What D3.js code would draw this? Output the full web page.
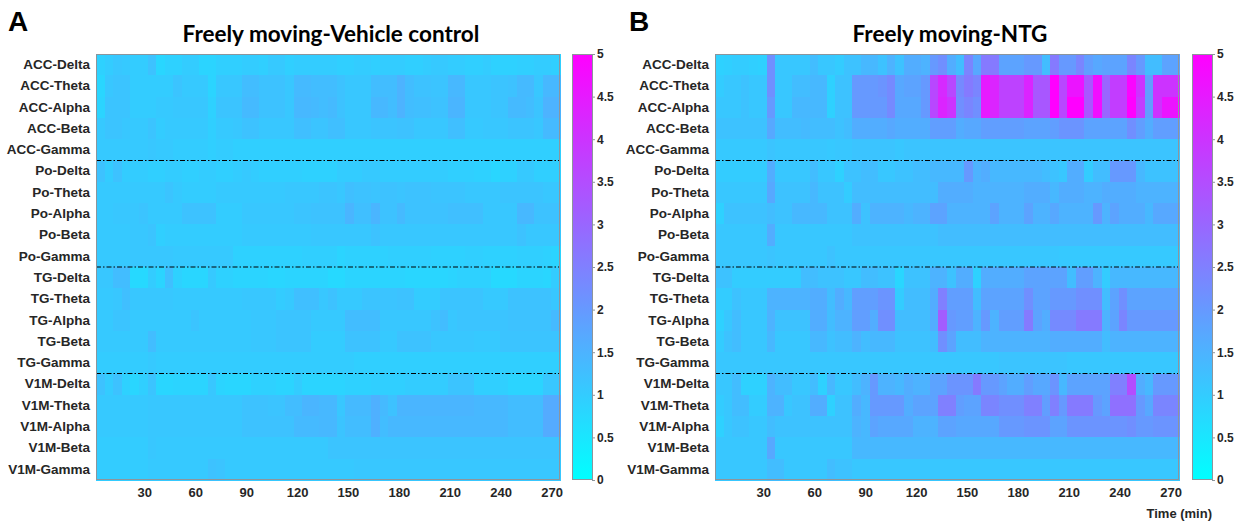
<!DOCTYPE html>
<html>
<head>
<meta charset="utf-8">
<script src="https://cdn.jsdelivr.net/npm/d3@7"></script>
<style>
  html, body { margin: 0; padding: 0; background: #ffffff; }
  svg { display: block; }
</style>
</head>
<body>
<svg id="chart" width="1247" height="523"></svg>
<script>
// Channel-band labels, top to bottom
const bands = ["ACC-Delta","ACC-Theta","ACC-Alpha","ACC-Beta","ACC-Gamma",
  "Po-Delta","Po-Theta","Po-Alpha","Po-Beta","Po-Gamma",
  "TG-Delta","TG-Theta","TG-Alpha","TG-Beta","TG-Gamma",
  "V1M-Delta","V1M-Theta","V1M-Alpha","V1M-Beta","V1M-Gamma"];

// 54 consecutive 5-minute bins
const bins = d3.range(54);
const timeTicks = [30, 60, 90, 120, 150, 180, 210, 240, 270];
const colorTicks = [0, 0.5, 1, 1.5, 2, 2.5, 3, 3.5, 4, 4.5, 5];

// Normalised power, vehicle-treated animals (rows follow `bands`)
const vehicle = [
  [0.9,1.0,1.1,1.05,1.0,1.0,1.2,0.8,0.9,0.9, 1.0,1.0,0.85,0.85,0.95,0.95,0.95,1.0,1.0,0.95, 1.05,1.05,0.95,1.0,1.0,1.0,1.0,1.0,0.95,0.95, 1.0,1.0,0.95,1.0,1.0,1.0,0.95,0.95,1.0,1.05, 1.05,1.0,1.0,0.95,0.95,1.0,0.9,0.9,0.9,0.95, 0.95,1.0,1.0,0.95],
  [0.8,1.1,1.15,1.15,1.0,1.0,1.0,1.0,1.0,1.15, 1.05,1.05,1.05,0.85,1.1,1.1,1.1,1.3,1.3,1.2, 1.2,1.2,1.1,1.35,1.35,1.3,1.3,1.3,1.2,1.1, 1.1,1.1,1.3,1.3,1.3,1.5,1.3,1.2,1.2,1.15, 1.15,1.4,1.4,1.1,1.1,1.1,1.15,1.15,1.2,1.35, 1.35,1.1,1.4,1.4],
  [0.85,1.15,1.15,1.15,1.0,1.0,1.0,1.05,1.05,1.1, 1.1,1.1,1.1,0.9,1.15,1.15,1.15,1.35,1.35,1.2, 1.2,1.2,1.1,1.4,1.4,1.35,1.3,1.35,1.2,1.1, 1.1,1.1,1.4,1.4,1.3,1.5,1.3,1.25,1.25,1.2, 1.2,1.45,1.45,1.1,1.1,1.1,1.15,1.15,1.35,1.35, 1.3,1.15,1.5,1.5],
  [1.05,1.15,1.15,1.1,1.05,1.05,1.15,1.0,1.05,1.05, 1.05,1.05,1.05,0.95,1.05,1.05,1.1,1.2,1.2,1.1, 1.1,1.1,1.1,1.25,1.25,1.15,1.15,1.25,1.25,1.1, 1.1,1.1,1.15,1.15,1.15,1.2,1.2,1.1,1.1,1.1, 1.1,1.25,1.25,1.05,1.05,1.1,1.1,1.1,1.15,1.15, 1.15,1.1,1.35,1.35],
  [1.05,1.05,1.05,1.05,1.05,1.05,1.1,1.05,1.05,1.0, 1.0,1.0,1.0,0.95,1.0,1.0,0.95,0.95,0.95,0.95, 0.95,0.95,0.95,0.95,0.95,0.95,0.95,0.95,0.95,0.95, 0.95,0.95,0.95,0.95,0.95,0.95,0.95,0.95,0.95,0.95, 0.95,0.95,0.95,0.95,0.95,0.95,0.95,0.95,0.95,0.95, 0.95,0.95,0.95,0.95],
  [1.2,1.0,1.2,1.0,1.0,1.0,0.95,0.95,1.0,1.0, 0.95,0.95,1.0,1.0,0.95,0.95,1.0,1.05,1.0,0.95, 0.95,0.95,0.95,0.95,0.9,0.9,0.9,0.9,1.0,1.0, 1.0,1.05,1.05,1.0,1.0,1.0,1.0,1.0,1.0,1.0, 1.0,0.95,0.95,0.95,0.9,0.9,0.8,0.9,0.9,1.05, 1.05,0.95,0.95,0.95],
  [1.05,1.05,1.05,1.05,1.05,1.05,1.05,1.05,1.15,1.05, 1.0,1.0,1.0,1.0,1.05,1.05,1.05,1.05,1.05,1.05, 1.05,1.05,1.1,1.1,1.1,1.1,1.15,1.15,1.1,1.25, 1.2,1.2,1.15,1.2,1.2,1.15,1.2,1.2,1.2,1.15, 1.15,1.15,1.15,1.1,1.1,1.1,1.1,1.15,1.15,1.15, 1.15,1.15,1.1,1.1],
  [1.05,1.05,1.1,1.1,1.1,1.15,1.05,1.05,1.05,1.05, 1.2,1.2,1.2,1.2,1.0,1.0,1.0,1.1,1.1,1.1, 1.1,1.1,1.1,1.15,1.15,1.2,1.2,1.2,1.2,1.45, 1.25,1.25,1.45,1.2,1.2,1.35,1.2,1.2,1.2,1.2, 1.2,1.25,1.25,1.25,1.25,1.1,1.1,1.1,1.1,1.4, 1.4,1.2,1.2,1.2],
  [1.05,1.05,1.05,1.05,1.1,1.1,1.15,0.95,1.0,1.0, 1.0,1.0,1.0,1.0,1.0,1.0,1.0,1.05,1.05,1.05, 1.05,1.05,1.05,1.05,1.05,1.1,1.1,1.1,1.1,1.1, 1.1,1.1,1.2,1.1,1.1,1.1,1.1,1.1,1.1,1.1, 1.1,1.1,1.1,1.1,1.1,1.1,1.1,1.1,1.1,1.2, 1.1,1.1,1.1,1.1],
  [1.05,1.05,1.05,1.05,1.1,1.1,1.1,1.1,1.1,1.05, 1.05,1.05,1.05,1.05,1.05,1.05,0.9,0.9,0.9,0.9, 0.9,0.9,0.9,0.9,0.95,0.95,0.95,0.95,0.85,0.9, 0.9,0.9,0.9,0.9,0.95,0.95,0.95,0.95,0.95,0.9, 0.9,0.9,0.9,0.95,0.95,0.9,0.9,0.9,0.9,0.95, 0.95,0.95,0.9,0.85],
  [1.1,1.1,1.3,1.3,0.75,0.75,1.0,0.85,1.25,0.9, 0.8,0.8,0.8,1.05,0.9,0.9,0.85,0.85,0.85,0.85, 0.8,0.8,0.85,0.85,0.85,0.85,0.85,0.75,0.75,0.85, 0.85,0.85,0.85,0.85,0.85,0.85,0.8,0.8,0.8,0.8, 0.8,0.85,0.9,0.9,0.9,0.9,0.75,0.75,0.75,0.85, 0.85,0.85,0.8,1.0],
  [1.05,1.05,1.1,1.25,1.1,1.1,1.1,1.1,1.1,1.05, 1.05,1.05,1.05,1.05,1.05,1.05,1.05,1.1,1.1,1.1, 1.1,1.0,1.05,1.25,1.25,1.25,1.1,1.2,1.05,1.05, 1.05,1.15,1.15,1.15,1.15,1.2,1.2,1.0,1.0,1.0, 1.15,1.15,1.15,1.15,1.15,1.05,1.05,1.05,1.2,1.2, 1.2,1.2,1.2,1.1],
  [1.05,1.05,1.15,1.15,1.05,1.05,1.05,1.05,1.05,1.05, 1.05,1.15,1.05,1.05,1.05,1.05,1.05,1.05,1.1,1.1, 1.1,1.15,1.15,1.15,1.15,1.05,1.05,1.05,1.05,1.3, 1.3,1.3,1.3,1.1,1.1,1.1,1.1,1.1,1.1,1.2, 1.3,1.1,1.15,1.15,1.15,1.15,1.15,1.15,1.2,1.2, 1.2,1.2,1.2,1.35],
  [1.05,1.05,1.05,1.05,1.05,1.05,1.3,1.05,1.05,1.05, 1.05,1.05,1.05,1.05,1.05,1.05,1.05,1.05,1.1,1.1, 1.1,1.15,1.15,1.15,1.15,1.0,1.0,1.0,1.0,1.2, 1.2,1.2,1.2,1.05,1.05,1.2,1.2,1.2,1.2,1.1, 1.1,1.1,1.1,1.1,1.05,1.05,1.05,1.15,1.15,1.15, 1.15,1.15,1.15,1.15],
  [1.0,1.0,1.0,1.0,1.0,1.0,1.05,1.0,1.0,1.0, 1.0,1.0,1.0,1.0,1.0,1.0,1.0,1.0,1.0,1.0, 1.0,1.0,1.0,1.0,1.0,1.0,1.0,1.0,1.0,1.0, 0.95,0.95,0.95,0.95,0.95,0.95,0.95,0.95,0.95,0.95, 0.95,0.95,0.95,0.95,0.95,0.95,0.95,0.95,0.95,0.95, 0.95,0.95,0.95,0.95],
  [1.2,1.0,1.2,0.9,0.8,0.95,1.15,0.8,0.8,0.85, 0.85,0.85,0.85,1.1,0.85,0.8,0.8,0.8,0.9,0.9, 0.9,0.85,0.85,1.0,0.85,0.85,0.85,0.85,0.85,0.9, 0.9,0.9,0.95,0.95,0.95,0.95,1.0,1.0,1.0,1.0, 1.0,1.15,1.15,1.15,0.95,0.95,0.95,0.95,0.85,0.85, 0.85,0.85,1.1,1.1],
  [1.05,1.05,1.05,1.05,1.05,1.05,1.1,1.1,1.1,1.1, 1.1,1.1,1.1,1.1,1.1,1.1,1.1,1.2,1.2,1.2, 1.15,1.15,1.3,1.3,1.45,1.45,1.4,1.4,1.1,1.35, 1.35,1.35,1.55,1.35,1.2,1.45,1.45,1.45,1.45,1.45, 1.45,1.45,1.45,1.45,1.4,1.4,1.4,1.4,1.3,1.3, 1.3,1.3,1.65,1.65],
  [1.05,1.05,1.05,1.05,1.05,1.05,1.1,1.1,1.1,1.1, 1.1,1.1,1.1,1.1,1.1,1.1,1.1,1.2,1.2,1.2, 1.2,1.2,1.2,1.35,1.35,1.35,1.4,1.4,1.15,1.3, 1.3,1.3,1.55,1.3,1.4,1.4,1.4,1.4,1.4,1.4, 1.4,1.4,1.4,1.4,1.4,1.4,1.4,1.4,1.3,1.3, 1.3,1.3,1.65,1.65],
  [1.0,1.0,1.0,1.0,1.0,1.0,1.1,1.05,1.05,1.05, 1.05,1.05,1.05,1.05,1.05,1.05,1.05,1.05,1.05,1.05, 1.05,1.05,1.05,1.05,1.05,1.05,1.05,1.15,1.15,1.15, 1.15,1.15,1.15,1.15,1.15,1.15,1.15,1.15,1.15,1.15, 1.15,1.15,1.15,1.15,1.15,1.15,1.15,1.15,1.15,1.15, 1.15,1.15,1.15,1.15],
  [1.0,1.0,1.0,1.0,1.0,1.0,1.05,1.05,1.05,1.05, 1.05,1.05,1.05,1.2,1.15,1.05,1.05,1.05,1.05,1.05, 1.05,1.05,1.05,1.05,1.05,1.05,1.05,1.05,1.05,1.05, 1.1,1.1,1.1,1.1,1.1,1.1,1.1,1.1,1.1,1.1, 1.1,1.1,1.1,1.1,1.1,1.1,1.1,1.1,1.1,1.1, 1.1,1.1,1.1,1.1]
];

// Normalised power, NTG-treated animals (rows follow `bands`)
const ntg = [
  [0.9,0.95,1.0,1.0,0.95,0.9,2.2,1.1,1.1,1.1, 1.1,1.3,1.1,1.1,1.0,1.2,1.2,1.4,1.4,1.2, 1.5,1.2,1.6,1.6,1.5,2.0,2.2,1.6,1.3,2.4, 1.7,2.6,2.6,1.8,1.8,1.8,2.0,2.0,1.3,2.6, 2.0,2.0,2.4,1.9,1.7,1.8,1.8,1.8,2.4,2.0, 1.3,1.3,1.8,1.8],
  [1.0,1.1,1.1,1.2,1.1,1.1,2.2,1.1,1.1,1.3, 1.3,1.4,1.4,0.9,1.2,1.2,2.0,2.0,2.0,2.1, 2.3,1.7,1.8,1.8,2.0,3.6,4.2,3.6,2.3,2.6, 2.4,4.5,4.3,3.7,3.7,3.7,4.3,3.3,3.3,5.0, 3.6,4.6,4.6,3.3,4.7,3.0,3.8,3.8,4.9,4.0, 1.9,4.0,4.0,4.0],
  [1.1,1.1,1.1,1.2,1.1,1.1,2.0,1.1,1.1,1.4, 1.4,1.4,1.4,0.9,1.2,1.2,2.0,2.0,2.0,2.0, 2.3,1.7,1.7,1.7,2.0,3.6,4.3,4.0,2.2,2.4, 2.2,4.5,4.3,3.7,3.7,3.7,4.3,3.3,3.3,5.0, 3.6,5.0,5.0,3.3,4.7,3.0,3.8,3.8,5.0,3.8, 1.9,4.0,4.6,4.6],
  [1.2,1.2,1.2,1.2,1.2,1.2,1.7,1.3,1.3,1.3, 1.35,1.3,1.3,1.3,1.2,1.3,1.6,1.6,1.6,1.6, 1.7,1.6,1.6,1.6,1.6,1.9,1.9,1.9,1.6,1.7, 1.7,1.9,1.9,1.9,1.9,1.9,1.8,1.8,1.8,1.9, 2.1,2.1,2.1,1.8,1.8,1.8,1.8,1.8,2.2,1.9, 1.6,1.9,1.9,1.9],
  [1.05,1.05,1.05,1.05,1.05,1.05,1.15,1.1,1.1,1.1, 1.1,1.1,1.1,1.05,1.1,1.1,1.15,1.15,1.15,1.15, 1.15,1.1,1.15,1.15,1.15,1.15,1.15,1.15,1.15,1.15, 1.15,1.15,1.15,1.15,1.15,1.15,1.15,1.15,1.15,1.15, 1.15,1.15,1.15,1.15,1.15,1.15,1.15,1.15,1.15,1.15, 1.15,1.15,1.15,1.15],
  [1.0,1.0,1.0,1.0,1.0,1.0,1.6,1.1,1.1,1.1, 1.1,1.3,1.1,1.1,0.9,1.2,1.2,1.3,1.3,1.1, 1.1,1.2,1.2,1.3,1.3,1.4,1.4,1.4,1.4,2.0, 1.5,1.6,1.4,1.4,1.4,1.4,1.4,1.4,1.3,1.2, 1.1,1.6,1.6,1.0,1.3,1.3,2.0,2.0,2.0,1.4, 1.2,1.2,1.2,1.2],
  [1.1,1.1,1.1,1.1,1.1,1.1,1.7,1.2,1.2,1.2, 1.2,1.4,1.2,1.2,1.2,1.0,1.3,1.3,1.3,1.3, 1.3,1.3,1.3,1.3,1.3,1.3,1.6,1.6,1.6,1.6, 1.5,1.5,1.5,1.5,1.5,1.5,1.6,1.6,1.6,1.4, 1.6,1.6,1.6,1.5,1.5,1.6,1.6,1.6,1.6,1.5, 1.5,1.5,1.5,1.5],
  [0.9,1.2,1.2,1.2,1.2,1.2,1.3,1.2,1.2,1.4, 1.4,1.4,1.4,1.2,1.2,1.2,1.6,1.2,1.5,1.5, 1.5,1.5,1.4,1.5,1.5,1.8,1.8,1.5,1.5,1.5, 1.5,1.5,1.8,1.5,1.5,1.5,1.8,1.5,1.5,1.7, 1.5,1.5,1.5,1.5,2.0,1.5,1.8,1.6,1.6,1.6, 1.4,1.7,1.7,1.7],
  [1.1,1.1,1.1,1.1,1.1,1.1,1.6,1.1,1.1,1.1, 1.1,1.1,1.1,1.1,1.1,1.1,1.2,1.2,1.2,1.2, 1.2,1.2,1.2,1.2,1.2,1.2,1.3,1.3,1.3,1.3, 1.3,1.3,1.3,1.3,1.3,1.3,1.3,1.3,1.3,1.3, 1.3,1.3,1.3,1.3,1.3,1.3,1.3,1.3,1.3,1.3, 1.3,1.3,1.3,1.3],
  [1.1,1.1,1.1,1.1,1.1,1.1,1.15,1.1,1.1,1.1, 1.1,1.1,1.1,1.2,1.1,1.1,1.1,1.1,1.1,1.1, 1.1,1.1,1.1,1.1,1.1,1.1,1.1,1.1,1.1,1.1, 1.1,1.1,1.1,1.1,1.1,1.1,1.1,1.1,1.1,1.1, 1.05,1.05,1.05,1.05,1.05,1.05,1.05,1.05,1.05,1.05, 1.05,1.05,1.05,1.05],
  [1.2,1.2,1.0,1.0,1.0,1.0,1.0,1.0,1.0,1.0, 1.3,1.3,1.2,1.2,1.2,1.1,1.1,1.3,1.3,1.2, 1.2,0.8,1.2,1.2,1.2,1.5,1.5,1.2,1.6,1.6, 0.9,1.6,1.6,1.6,1.6,1.6,1.8,1.8,1.8,1.8, 1.8,1.3,1.9,1.9,1.5,1.0,1.4,1.4,1.4,1.4, 1.4,1.4,1.4,1.4],
  [1.0,1.0,1.2,1.1,1.1,1.1,1.5,1.5,1.5,1.5, 1.5,1.6,1.6,1.3,1.6,1.4,1.9,1.9,1.9,2.1, 2.1,1.0,1.3,1.3,1.3,1.6,2.5,1.9,1.9,1.9, 1.3,1.8,1.8,1.8,1.8,1.8,2.2,1.8,1.8,2.0, 2.0,2.0,2.2,2.2,2.2,1.3,1.8,2.2,1.8,1.8, 1.8,1.8,1.8,1.8],
  [0.9,1.1,1.3,1.1,1.1,1.1,1.5,1.2,1.2,1.2, 1.2,1.6,1.6,1.3,1.5,1.5,1.9,1.9,1.6,2.2, 2.2,1.3,1.3,1.3,1.3,1.6,3.2,2.0,1.9,1.9, 1.5,2.0,1.5,1.9,1.9,1.9,2.6,1.8,1.6,2.3, 2.3,2.3,2.6,2.6,2.6,1.5,1.8,2.4,2.0,2.0, 2.0,2.0,2.0,2.0],
  [1.0,1.2,1.3,1.1,1.1,1.1,1.4,1.1,1.1,1.1, 1.1,1.4,1.4,1.2,1.3,1.3,1.5,1.3,1.4,1.4, 1.4,1.2,1.2,1.2,1.2,1.3,2.2,1.8,1.3,1.3, 1.3,1.5,1.5,1.5,1.5,1.5,1.5,1.5,1.5,1.6, 1.6,1.6,1.6,1.6,1.6,1.3,1.5,1.5,1.5,1.5, 1.5,1.5,1.5,1.5],
  [1.1,1.1,1.1,1.1,1.1,1.1,1.1,1.1,1.1,1.1, 1.1,1.1,1.1,1.1,1.1,1.1,1.1,1.1,1.1,1.1, 1.1,1.1,1.1,1.1,1.1,1.1,1.1,1.1,1.1,1.1, 1.1,1.1,1.1,1.15,1.15,1.15,1.15,1.15,1.15,1.15, 1.15,1.1,1.1,1.1,1.1,1.1,1.1,1.1,1.1,1.1, 1.1,1.1,1.1,1.1],
  [1.1,1.1,1.3,0.9,0.9,0.9,1.5,1.3,1.3,1.1, 1.1,1.3,0.9,1.4,1.1,1.1,1.3,1.5,2.0,1.5, 1.5,1.4,1.6,1.5,1.5,1.8,1.8,2.1,2.1,2.1, 2.6,2.0,2.0,1.8,1.6,1.6,1.9,1.7,1.7,2.1, 1.4,1.8,1.8,1.8,1.8,1.8,2.5,2.5,3.5,1.6, 1.4,2.0,2.0,2.0],
  [1.0,1.1,1.3,1.3,1.0,1.0,1.5,1.5,1.1,1.2, 1.2,1.6,1.6,0.9,1.2,1.2,1.6,1.4,2.0,2.0, 2.0,2.0,1.6,1.8,1.8,1.8,2.5,2.5,1.9,1.8, 1.8,2.4,2.4,2.2,2.2,2.2,2.5,2.5,1.9,2.5, 2.0,2.6,2.6,2.6,2.0,1.8,2.8,2.8,2.8,2.0, 1.7,2.4,2.4,2.4],
  [0.9,1.1,1.2,1.2,1.1,1.1,1.3,1.2,1.2,1.2, 1.2,1.2,1.2,1.2,1.2,1.2,1.5,1.4,1.8,1.7, 1.7,1.7,1.7,1.5,1.5,1.5,1.8,1.8,1.7,1.7, 1.7,1.7,1.7,2.0,2.0,2.0,2.1,2.1,2.1,1.8, 1.8,2.1,2.1,2.1,2.1,2.1,2.1,2.1,2.2,2.0, 2.0,2.1,2.1,2.1],
  [1.1,1.1,1.1,1.1,1.1,1.1,1.7,1.1,1.1,1.1, 1.1,1.1,1.1,1.1,1.1,1.1,1.4,1.4,1.4,1.4, 1.4,1.4,1.4,1.4,1.4,1.4,1.4,1.4,1.4,1.4, 1.4,1.4,1.4,1.4,1.4,1.4,1.4,1.4,1.4,1.4, 1.4,1.4,1.4,1.4,1.4,1.4,1.4,1.4,1.4,1.4, 1.4,1.4,1.4,1.4],
  [1.1,1.1,1.1,1.1,1.1,1.1,1.3,1.3,1.1,1.1, 1.1,1.1,1.1,1.3,1.2,1.2,1.1,1.1,1.1,1.1, 1.1,1.1,1.1,1.1,1.1,1.1,1.1,1.1,1.1,1.1, 1.1,1.1,1.1,1.1,1.1,1.1,1.1,1.1,1.1,1.1, 1.1,1.1,1.1,1.1,1.1,1.1,1.1,1.1,1.1,1.1, 1.1,1.1,1.1,1.1]
];

const svg = d3.select("#chart");

// cyan -> magenta ("cool") colour map over 0..5
const color = d3.scaleLinear().domain([0, 5]).range(["#00ffff", "#ff00ff"])
  .interpolate(d3.interpolateRgb).clamp(true);

const plotTop = 54, plotBottom = 480;
const labelFont = "'Liberation Sans', Arial, sans-serif";

const panels = [
  { id: "A", title: "Freely moving-Vehicle control", data: vehicle, x0: 96, x1: 560, cb0: 572, cb1: 593, letterX: 8, showTimeLabel: false },
  { id: "B", title: "Freely moving-NTG", data: ntg, x0: 715, x1: 1179, cb0: 1192, cb1: 1213, letterX: 629, showTimeLabel: true }
];

// gradient for the colour bars
const defs = svg.append("defs");
const grad = defs.append("linearGradient").attr("id", "coolGrad")
  .attr("x1", 0).attr("y1", 1).attr("x2", 0).attr("y2", 0);
colorTicks.forEach(v => grad.append("stop").attr("offset", v / 5).attr("stop-color", color(v)));

panels.forEach(p => {
  const g = svg.append("g");

  const x = d3.scaleBand().domain(bins).range([p.x0, p.x1]).padding(0);
  const y = d3.scaleBand().domain(bands).range([plotTop, plotBottom]).padding(0);
  const t = d3.scaleLinear().domain([1.5, 275]).range([p.x0, p.x1]);

  // heat-map cells
  p.data.forEach((row, ri) => {
    g.selectAll(null).data(row).join("rect")
      .attr("x", (d, ci) => x(ci))
      .attr("y", y(bands[ri]))
      .attr("width", x.bandwidth() + 0.6)
      .attr("height", y.bandwidth() + 0.6)
      .attr("fill", d => color(d))
      .attr("shape-rendering", "crispEdges");
  });

  // region separators (dash-dot)
  ["Po-Delta", "TG-Delta", "V1M-Delta"].forEach(b => {
    g.append("line")
      .attr("x1", p.x0).attr("x2", p.x1)
      .attr("y1", y(b)).attr("y2", y(b))
      .attr("stroke", "#000").attr("stroke-width", 1)
      .attr("stroke-dasharray", "5,2,1.5,2");
  });

  // frame
  g.append("rect")
    .attr("x", p.x0 + 0.5).attr("y", plotTop + 0.5)
    .attr("width", p.x1 - p.x0 - 1).attr("height", plotBottom - plotTop - 1)
    .attr("fill", "none").attr("stroke", "#8c959c").attr("stroke-width", 1);

  // band labels
  const yAxis = d3.axisLeft(y).tickSize(0).tickPadding(6);
  const ya = g.append("g").attr("transform", `translate(${p.x0},0)`).call(yAxis);
  ya.select(".domain").remove();
  ya.selectAll("text")
    .attr("font-family", labelFont).attr("font-weight", "bold")
    .attr("font-size", "13.5px").attr("fill", "#262626");

  // time axis
  const xAxis = d3.axisBottom(t).tickValues(timeTicks).tickSize(0).tickPadding(8);
  const xa = g.append("g").attr("transform", `translate(0,${plotBottom})`).call(xAxis);
  xa.select(".domain").remove();
  xa.selectAll("text")
    .attr("font-family", labelFont).attr("font-weight", "bold")
    .attr("font-size", "13px").attr("fill", "#262626");

  if (p.showTimeLabel) {
    g.append("text")
      .attr("x", 1212).attr("y", 518)
      .attr("text-anchor", "end")
      .attr("font-family", labelFont).attr("font-weight", "bold")
      .attr("font-size", "13px").attr("fill", "#262626")
      .text("Time (min)");
  }

  // colour bar
  const c = d3.scaleLinear().domain([0, 5]).range([plotBottom, plotTop]);
  g.append("rect")
    .attr("x", p.cb0).attr("y", plotTop)
    .attr("width", p.cb1 - p.cb0).attr("height", plotBottom - plotTop)
    .attr("fill", "url(#coolGrad)");
  g.append("rect")
    .attr("x", p.cb0 + 0.5).attr("y", plotTop + 0.5)
    .attr("width", p.cb1 - p.cb0 - 1).attr("height", plotBottom - plotTop - 1)
    .attr("fill", "none").attr("stroke", "#8c959c");
  const cAxis = d3.axisRight(c).tickValues(colorTicks).tickSize(3).tickPadding(2)
    .tickFormat(d3.format("~g"));
  const ca = g.append("g").attr("transform", `translate(${p.cb1 - 1},0)`).call(cAxis);
  ca.select(".domain").remove();
  ca.selectAll("line").attr("stroke", "#8c959c");
  ca.selectAll("text")
    .attr("font-family", labelFont).attr("font-weight", "bold")
    .attr("font-size", "12px").attr("fill", "#262626");

  // title and panel letter
  g.append("text")
    .attr("x", (p.x0 + p.x1) / 2 + 3).attr("y", 42)
    .attr("text-anchor", "middle")
    .attr("font-family", "Lato, 'Open Sans', sans-serif").attr("font-weight", "bold")
    .attr("font-size", "22.5px").attr("fill", "#000")
    .text(p.title);
  g.append("text")
    .attr("x", p.letterX).attr("y", 31)
    .attr("font-family", labelFont).attr("font-weight", "bold")
    .attr("font-size", "28px").attr("fill", "#000")
    .text(p.id);
});
</script>
</body>
</html>
